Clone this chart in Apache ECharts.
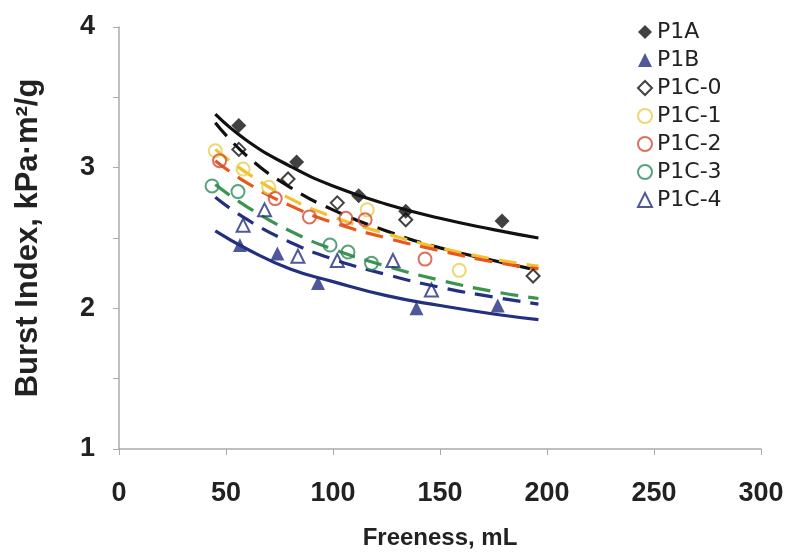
<!DOCTYPE html>
<html>
<head>
<meta charset="utf-8">
<script src="https://cdn.jsdelivr.net/npm/echarts@6/dist/echarts.min.js"></script>
<style>
  html, body { margin: 0; padding: 0; background: #fff; }
  #chart { width: 787px; height: 555px; }
</style>
</head>
<body>
<div id="chart"></div>
<script>
// measured points (freeness mL, burst index)
var p1aX = [56, 83, 112, 134, 179];
var p1aY = [3.30, 3.04, 2.80, 2.69, 2.62];
var p1bX = [56.5, 74, 93, 139, 177];
var p1bY = [2.45, 2.39, 2.18, 2.00, 2.02];
var p1c0X = [56, 79, 102, 134, 193.5];
var p1c0Y = [3.13, 2.92, 2.75, 2.63, 2.23];
var p1c1X = [45, 58, 70, 116, 159];
var p1c1Y = [3.12, 2.99, 2.86, 2.70, 2.27];
var p1c2X = [47, 73, 89, 106, 115, 143];
var p1c2Y = [3.05, 2.78, 2.65, 2.64, 2.63, 2.35];
var p1c3X = [43.5, 55.6, 98.6, 107, 118];
var p1c3Y = [2.87, 2.83, 2.45, 2.40, 2.32];
var p1c4X = [58, 68, 83.6, 102, 128, 146];
var p1c4Y = [2.59, 2.70, 2.37, 2.34, 2.34, 2.13];

// trend curves
var trendX = [45, 60, 80, 100, 125, 150, 175, 196];
var trendP1A = [3.38, 3.19, 3.01, 2.87, 2.74, 2.64, 2.56, 2.50];
var trendP1B = [2.55, 2.42, 2.28, 2.19, 2.09, 2.02, 1.96, 1.92];
var trendP1C0 = [3.32, 3.08, 2.86, 2.70, 2.55, 2.43, 2.34, 2.27];
var trendP1C1 = [3.13, 2.96, 2.78, 2.65, 2.53, 2.43, 2.35, 2.30];
var trendP1C2 = [3.05, 2.89, 2.73, 2.61, 2.50, 2.41, 2.33, 2.28];
var trendP1C3 = [2.88, 2.72, 2.55, 2.42, 2.30, 2.20, 2.12, 2.07];
var trendP1C4 = [2.79, 2.63, 2.47, 2.35, 2.24, 2.15, 2.08, 2.03];

var legendNames = ['P1A', 'P1B', 'P1C-0', 'P1C-1', 'P1C-2', 'P1C-3', 'P1C-4'];

function pairs(xs, ys) {
  return xs.map(function (x, i) { return [x, ys[i]]; });
}

function trend(name, ys, color, type) {
  return {
    name: name, type: 'line', data: pairs(trendX, ys),
    smooth: true, symbol: 'none', silent: true, z: 1,
    lineStyle: { color: color, width: 3.2, type: type }
  };
}

function points(name, xs, ys, symbol, fill, border, size) {
  return {
    name: name, type: 'scatter', data: pairs(xs, ys),
    symbol: symbol, symbolSize: size, z: 3,
    itemStyle: { color: fill, borderColor: border, borderWidth: fill === 'transparent' ? 2 : 0 }
  };
}

var chart = echarts.init(document.getElementById('chart'));
chart.setOption({
  animation: false,
  textStyle: { fontFamily: 'Liberation Sans, Arial, sans-serif' },
  grid: { left: 119, right: 26, top: 27, bottom: 102 },
  legend: {
    data: legendNames,
    orient: 'vertical', left: 632, top: 16,
    itemWidth: 14, itemHeight: 14, itemGap: 6,
    textStyle: { fontSize: 22, color: '#222', fontFamily: 'DejaVu Sans, sans-serif' }
  },
  xAxis: {
    type: 'value', min: 0, max: 300, interval: 50,
    name: 'Freeness, mL', nameLocation: 'middle', nameGap: 77,
    nameTextStyle: { fontSize: 24, fontWeight: 'bold', color: '#222' },
    axisLine: { lineStyle: { color: '#aaa', width: 1.5 } },
    axisTick: { show: true, length: 6, lineStyle: { color: '#aaa' } },
    axisLabel: { fontSize: 27, fontWeight: 'bold', color: '#222', margin: 31 },
    splitLine: { show: false }
  },
  yAxis: {
    type: 'value', min: 1, max: 4, interval: 0.5,
    name: 'Burst Index, kPa·m²/g', nameLocation: 'middle', nameGap: 75,
    nameTextStyle: { fontSize: 31, fontWeight: 'bold', color: '#222' },
    axisLine: { show: true, lineStyle: { color: '#aaa', width: 1.5 } },
    axisTick: { show: true, length: 6, lineStyle: { color: '#aaa' } },
    axisLabel: {
      fontSize: 27, fontWeight: 'bold', color: '#222', margin: 24,
      formatter: function (v) { return v % 1 === 0 ? String(v) : ''; }
    },
    splitLine: { show: false }
  },
  series: [
    trend('P1A fit', trendP1A, '#111', 'solid'),
    trend('P1B fit', trendP1B, '#23307f', 'solid'),
    trend('P1C-0 fit', trendP1C0, '#111', [18, 10]),
    trend('P1C-1 fit', trendP1C1, '#f5c030', [18, 10]),
    trend('P1C-2 fit', trendP1C2, '#e8571e', [18, 10]),
    trend('P1C-3 fit', trendP1C3, '#3a9550', [18, 10]),
    trend('P1C-4 fit', trendP1C4, '#23307f', [18, 10]),
    points('P1A', p1aX, p1aY, 'diamond', '#111', '#111', 15),
    points('P1B', p1bX, p1bY, 'triangle', '#23307f', '#23307f', 14),
    points('P1C-0', p1c0X, p1c0Y, 'diamond', 'transparent', '#111', 13),
    points('P1C-1', p1c1X, p1c1Y, 'circle', 'transparent', '#e6d04e', 13),
    points('P1C-2', p1c2X, p1c2Y, 'circle', 'transparent', '#cf4e36', 13),
    points('P1C-3', p1c3X, p1c3Y, 'circle', 'transparent', '#2f8a5e', 13),
    points('P1C-4', p1c4X, p1c4Y, 'triangle', 'transparent', '#23307f', 13)
  ]
});
</script>
</body>
</html>
